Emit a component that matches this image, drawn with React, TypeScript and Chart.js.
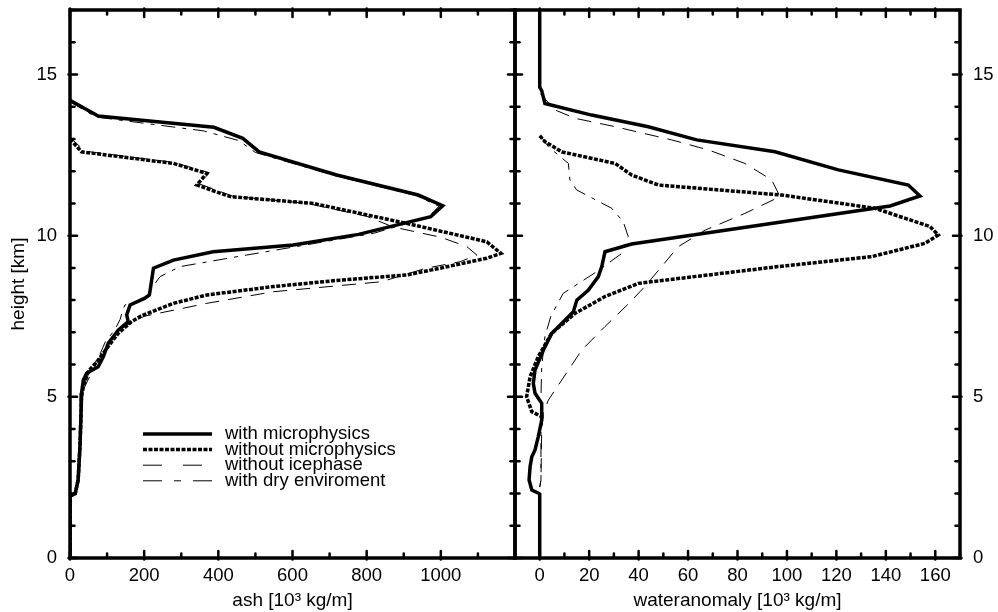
import React, { useEffect, useRef } from "react";
import { Chart, registerables } from "chart.js";

Chart.register(...registerables);

const FONT = '"Liberation Sans", Arial, Helvetica, sans-serif';

// ---- axes ----
const HEIGHT_MIN = 0;
const HEIGHT_MAX = 17;
const HEIGHT_TICKS = [0, 5, 10, 15];
const HEIGHT_MINOR_STEP = 1;
const HEIGHT_TITLE = "height [km]";

const ASH_MIN = 0;
const ASH_MAX = 1200;
const ASH_TICKS = [0, 200, 400, 600, 800, 1000];
const ASH_MINOR_STEP = 100;
const ASH_TITLE = "ash [10³ kg/m]";

const WATER_MIN = -10;
const WATER_MAX = 170;
const WATER_TICKS = [0, 20, 40, 60, 80, 100, 120, 140, 160];
const WATER_MINOR_STEP = 10;
const WATER_TITLE = "wateranomaly [10³ kg/m]";

const SERIES_LABELS = [
  "with microphysics",
  "without microphysics",
  "without icephase",
  "with dry enviroment",
];

// ---- ash profiles (left panel) ----
const ASH_H_MICRO = [14.2, 13.71, 13.36, 13.02, 12.6, 11.88, 11.26, 10.93, 10.59, 10.04, 9.71, 9.5, 9.24, 8.99, 8.3, 8.16, 8.06, 7.85, 7.54, 7.33, 7.07, 6.66, 6.25, 5.93, 5.73, 5.52, 5.11, 4.59, 3.5, 2.42, 2.0, 1.92, 0];
const ASH_MICRO = [0, 76, 388, 466, 510, 719, 939, 1005, 973, 778, 602, 386, 279, 225, 216, 214, 202, 162, 153, 157, 130, 103, 90, 76, 45, 36, 31, 30, 27, 22, 14, 0, 0];

const ASH_H_NOMICRO = [13.0, 12.6, 12.24, 11.93, 11.57, 11.21, 11.0, 10.38, 9.81, 9.45, 9.3, 8.99, 8.78, 8.62, 8.42, 8.16, 7.9, 7.8, 7.5, 7.33, 6.97, 6.5, 6.14, 5.78, 5.31, 5.0, 4.5, 3.5, 2.42, 2.0, 1.92, 0];
const ASH_NOMICRO = [0, 31, 279, 369, 342, 432, 656, 908, 1124, 1162, 1124, 998, 908, 728, 548, 369, 279, 256, 190, 166, 130, 99, 76, 49, 36, 31, 30, 27, 22, 14, 0, 0];

const ASH_H_NOICE = [13.05, 12.62, 12.27, 11.95, 11.6, 11.22, 11.0, 10.6, 10.27, 9.95, 9.66, 9.4, 9.19, 8.99, 8.57, 8.26, 7.9, 7.5, 7.2, 6.9, 6.3, 5.8, 5.2, 4.5, 2.42, 2.0, 1.92, 0];
const ASH_NOICE = [0, 40, 280, 375, 350, 440, 640, 800, 871, 1000, 1070, 1097, 1052, 960, 840, 548, 369, 200, 150, 115, 85, 60, 35, 30, 22, 14, 0, 0];

const ASH_H_DRY = [14.15, 13.68, 13.25, 12.95, 12.58, 11.86, 11.24, 10.91, 10.57, 10.07, 9.4, 9.04, 8.73, 8.4, 8.05, 7.85, 7.6, 7.4, 7.1, 6.7, 6.3, 5.95, 5.6, 5.1, 4.0, 2.42, 2.0, 1.92, 0];
const ASH_DRY = [0, 70, 360, 455, 500, 715, 935, 995, 965, 818, 477, 297, 243, 222, 205, 148, 140, 135, 122, 95, 80, 62, 45, 33, 28, 22, 14, 0, 0];

// ---- water anomaly profiles (right panel) ----
const WAT_H_MICRO = [17, 14.6, 14.5, 14.1, 13.74, 13.38, 12.97, 12.6, 12.04, 11.57, 11.23, 10.92, 9.74, 9.5, 9.04, 8.73, 8.31, 8.0, 7.64, 7.33, 6.97, 6.45, 5.83, 5.42, 5.11, 4.8, 4.28, 3.76, 3.35, 3.14, 2.83, 2.42, 2.11, 2.01, 1.98, 0];
const WAT_MICRO = [0, 0, 0.8, 2.1, 21, 43.9, 63.5, 95.2, 120.8, 149.1, 153.8, 141.7, 37.2, 26.4, 25.1, 23.7, 19.7, 15, 13.6, 9.6, 4.9, 1.5, -1.9, -2.6, -1.9, 0.8, 0.8, -0.6, -1.9, -3.2, -3.9, -4.3, -3.2, -0.5, 0, 0];

const WAT_H_NOMICRO = [13.1, 12.92, 12.6, 12.24, 11.88, 11.57, 11.26, 10.85, 10.28, 10.02, 9.76, 9.35, 9.04, 8.52, 8.11, 7.59, 6.97, 6.25, 5.62, 5.0, 4.54, 4.38, 4.28];
const WAT_NOMICRO = [0, 2.1, 8.9, 30.5, 37.2, 48, 97.9, 135.6, 157.9, 161.2, 155.8, 134.3, 96.4, 39.9, 26.4, 14.3, 4.8, -0.6, -3.9, -5.3, -3.2, 0.8, 0.8];

const WAT_H_NOICE = [14.4, 13.9, 13.64, 13.38, 12.97, 12.66, 12.24, 11.73, 11.21, 10.69, 10.17, 9.66, 9.04, 8.42, 7.9, 7.18, 6.45, 5.52, 4.9, 4.49, 3.97, 2.42, 2.2];
const WAT_NOICE = [0.3, 6.2, 14.3, 30.5, 53.4, 68.2, 83, 93.8, 97.2, 83, 66.9, 56.1, 49.3, 42.5, 36.1, 26.4, 17, 8.9, 3.5, 1.45, 0.8, 0.5, 0];

const WAT_H_DRY = [13.1, 12.76, 12.24, 11.73, 11.42, 10.85, 10.43, 9.97, 9.45, 8.88, 8.21, 7.5, 6.87, 5.93, 5.0, 4.3, 2.42, 2.2];
const WAT_DRY = [0.3, 3.5, 11.6, 12.2, 14.9, 29.1, 33.8, 35.8, 33.2, 23, 9.5, 4.5, 2.1, 0.8, 0.5, 0.5, 0.5, 0];

// ---- line styles ----
const LINE_WIDTHS = [3.5, 3.5, 1, 1];
const LINE_DASHES: number[][] = [[], [4, 1.5], [14, 9], [14, 7, 4, 7]];
const LEGEND_DASHES: number[][] = [[], [4, 1.5], [19, 21], [19, 12, 7, 12]];

function toPoints(values: number[], heights: number[]) {
  return values.map((v, i) => ({ x: v, y: heights[i] }));
}

const framePlugin = {
  id: "frame",
  afterDraw(chart: any, _args: any, opts: any) {
    const { ctx, chartArea: a } = chart;
    const xs = chart.scales.x;
    const ys = chart.scales.y;
    ctx.save();
    ctx.strokeStyle = "#000";
    ctx.lineCap = "round";
    ctx.lineWidth = 2.5;
    const seg = (x1: number, y1: number, x2: number, y2: number) => {
      ctx.beginPath();
      ctx.moveTo(x1, y1);
      ctx.lineTo(x2, y2);
      ctx.stroke();
    };
    const nx = Math.round((xs.max - xs.min) / opts.xMinor);
    for (let i = 0; i <= nx; i++) {
      const v = xs.min + i * opts.xMinor;
      const p = xs.getPixelForValue(v);
      const len = opts.xMajor.includes(v) ? 7 : 4.5;
      seg(p, a.bottom + (len > 5 ? 1.5 : 0), p, a.bottom - len);
      seg(p, a.top - (len > 5 ? 1.5 : 0), p, a.top + len);
    }
    const ny = Math.round((ys.max - ys.min) / opts.yMinor);
    for (let i = 0; i <= ny; i++) {
      const v = ys.min + i * opts.yMinor;
      const p = ys.getPixelForValue(v);
      const len = opts.yMajor.includes(v) ? 7 : 4.5;
      seg(a.left - (len > 5 ? 1.5 : 0), p, a.left + len, p);
      seg(a.right + (len > 5 ? 1.5 : 0), p, a.right - len, p);
    }
    ctx.lineCap = "butt";
    ctx.lineJoin = "miter";
    ctx.lineWidth = 3.5;
    ctx.strokeRect(a.left, a.top, a.right - a.left, a.bottom - a.top);
    ctx.restore();
  },
};

const insideLegendPlugin = {
  id: "insideLegend",
  afterDraw(chart: any, _args: any, opts: any) {
    if (!opts || !opts.show) return;
    const { ctx } = chart;
    chart.data.datasets.forEach((ds: any, i: number) => {
      const y = opts.y0 + i * opts.dy;
      ctx.save();
      ctx.strokeStyle = "#000";
      ctx.lineWidth = ds.borderWidth;
      ctx.lineCap = "butt";
      ctx.setLineDash(LEGEND_DASHES[i]);
      ctx.beginPath();
      ctx.moveTo(opts.x0, y);
      ctx.lineTo(opts.x1, y);
      ctx.stroke();
      ctx.setLineDash([]);
      ctx.fillStyle = "#000";
      ctx.font = `18.5px ${FONT}`;
      ctx.textBaseline = "middle";
      ctx.textAlign = "left";
      ctx.fillText(ds.label, opts.tx, y);
      ctx.restore();
    });
  },
};

function buildConfig(p: {
  series: { values: number[]; heights: number[] }[];
  xMin: number;
  xMax: number;
  xTicks: number[];
  xMinor: number;
  xTitle: string;
  yPosition: "left" | "right";
  yWidth: number;
  yTitle?: string;
  padLeft: number;
  padRight: number;
  legend: boolean;
}): any {
  const tickFont = { family: FONT, size: 18.5 };
  const titleFont = { family: FONT, size: 19 };
  return {
    type: "line",
    data: {
      datasets: p.series.map((s, i) => ({
        label: SERIES_LABELS[i],
        data: toPoints(s.values, s.heights),
        borderColor: "#000",
        backgroundColor: "#000",
        borderWidth: LINE_WIDTHS[i],
        borderDash: LINE_DASHES[i],
        borderCapStyle: "butt",
        borderJoinStyle: "miter",
        pointRadius: 0,
        pointHoverRadius: 0,
        fill: false,
        tension: 0,
        order: i,
      })),
    },
    options: {
      responsive: false,
      animation: false,
      devicePixelRatio: 1,
      events: [],
      layout: {
        autoPadding: false,
        padding: { left: p.padLeft, right: p.padRight, top: 10, bottom: 0 },
      },
      plugins: {
        legend: { display: false },
        tooltip: { enabled: false },
        frame: { xMajor: p.xTicks, xMinor: p.xMinor, yMajor: HEIGHT_TICKS, yMinor: HEIGHT_MINOR_STEP },
        insideLegend: { show: p.legend, x0: 143, x1: 212, tx: 225, y0: 434, dy: 15.6 },
      },
      scales: {
        x: {
          type: "linear",
          position: "bottom",
          min: p.xMin,
          max: p.xMax,
          grid: { display: false, drawTicks: false },
          border: { display: false },
          afterBuildTicks: (s: any) => {
            s.ticks = p.xTicks.map((v) => ({ value: v }));
          },
          afterFit: (s: any) => {
            s.height = 54;
            s.paddingLeft = 0;
            s.paddingRight = 0;
            s.paddingTop = 0;
            s.paddingBottom = 0;
          },
          ticks: {
            font: tickFont,
            color: "#000",
            padding: 7,
            maxRotation: 0,
            minRotation: 0,
            autoSkip: false,
            callback: (v: any) => String(v),
          },
          title: {
            display: true,
            text: p.xTitle,
            font: titleFont,
            color: "#000",
            padding: { top: 0, bottom: 0 },
          },
        },
        y: {
          type: "linear",
          position: p.yPosition,
          min: HEIGHT_MIN,
          max: HEIGHT_MAX,
          grid: { display: false, drawTicks: false },
          border: { display: false },
          afterBuildTicks: (s: any) => {
            s.ticks = HEIGHT_TICKS.map((v) => ({ value: v }));
          },
          afterFit: (s: any) => {
            s.width = p.yWidth;
            s.paddingLeft = 0;
            s.paddingRight = 0;
            s.paddingTop = 0;
            s.paddingBottom = 0;
          },
          ticks: {
            font: tickFont,
            color: "#000",
            padding: 13,
            autoSkip: false,
            callback: (v: any) => String(v),
          },
          title: {
            display: !!p.yTitle,
            text: p.yTitle || "",
            font: titleFont,
            color: "#000",
            padding: { top: 7, bottom: 0 },
          },
        },
      },
    },
    plugins: [framePlugin, insideLegendPlugin],
  };
}

export default function App() {
  const leftRef = useRef<HTMLCanvasElement>(null);
  const rightRef = useRef<HTMLCanvasElement>(null);

  useEffect(() => {
    const left = new Chart(
      leftRef.current!,
      buildConfig({
        series: [
          { values: ASH_MICRO, heights: ASH_H_MICRO },
          { values: ASH_NOMICRO, heights: ASH_H_NOMICRO },
          { values: ASH_NOICE, heights: ASH_H_NOICE },
          { values: ASH_DRY, heights: ASH_H_DRY },
        ],
        xMin: ASH_MIN,
        xMax: ASH_MAX,
        xTicks: ASH_TICKS,
        xMinor: ASH_MINOR_STEP,
        xTitle: ASH_TITLE,
        yPosition: "left",
        yWidth: 70,
        yTitle: HEIGHT_TITLE,
        padLeft: 0,
        padRight: 5,
        legend: true,
      })
    );
    const right = new Chart(
      rightRef.current!,
      buildConfig({
        series: [
          { values: WAT_MICRO, heights: WAT_H_MICRO },
          { values: WAT_NOMICRO, heights: WAT_H_NOMICRO },
          { values: WAT_NOICE, heights: WAT_H_NOICE },
          { values: WAT_DRY, heights: WAT_H_DRY },
        ],
        xMin: WATER_MIN,
        xMax: WATER_MAX,
        xTicks: WATER_TICKS,
        xMinor: WATER_MINOR_STEP,
        xTitle: WATER_TITLE,
        yPosition: "right",
        yWidth: 38,
        padLeft: 5,
        padRight: 0,
        legend: false,
      })
    );
    return () => {
      left.destroy();
      right.destroy();
    };
  }, []);

  return (
    <div style={{ position: "absolute", left: 0, top: 0, width: 998, height: 612, background: "#fff" }}>
      <canvas ref={leftRef} width={520} height={612} style={{ position: "absolute", left: 0, top: 0 }} />
      <canvas ref={rightRef} width={488} height={612} style={{ position: "absolute", left: 510, top: 0 }} />
    </div>
  );
}
